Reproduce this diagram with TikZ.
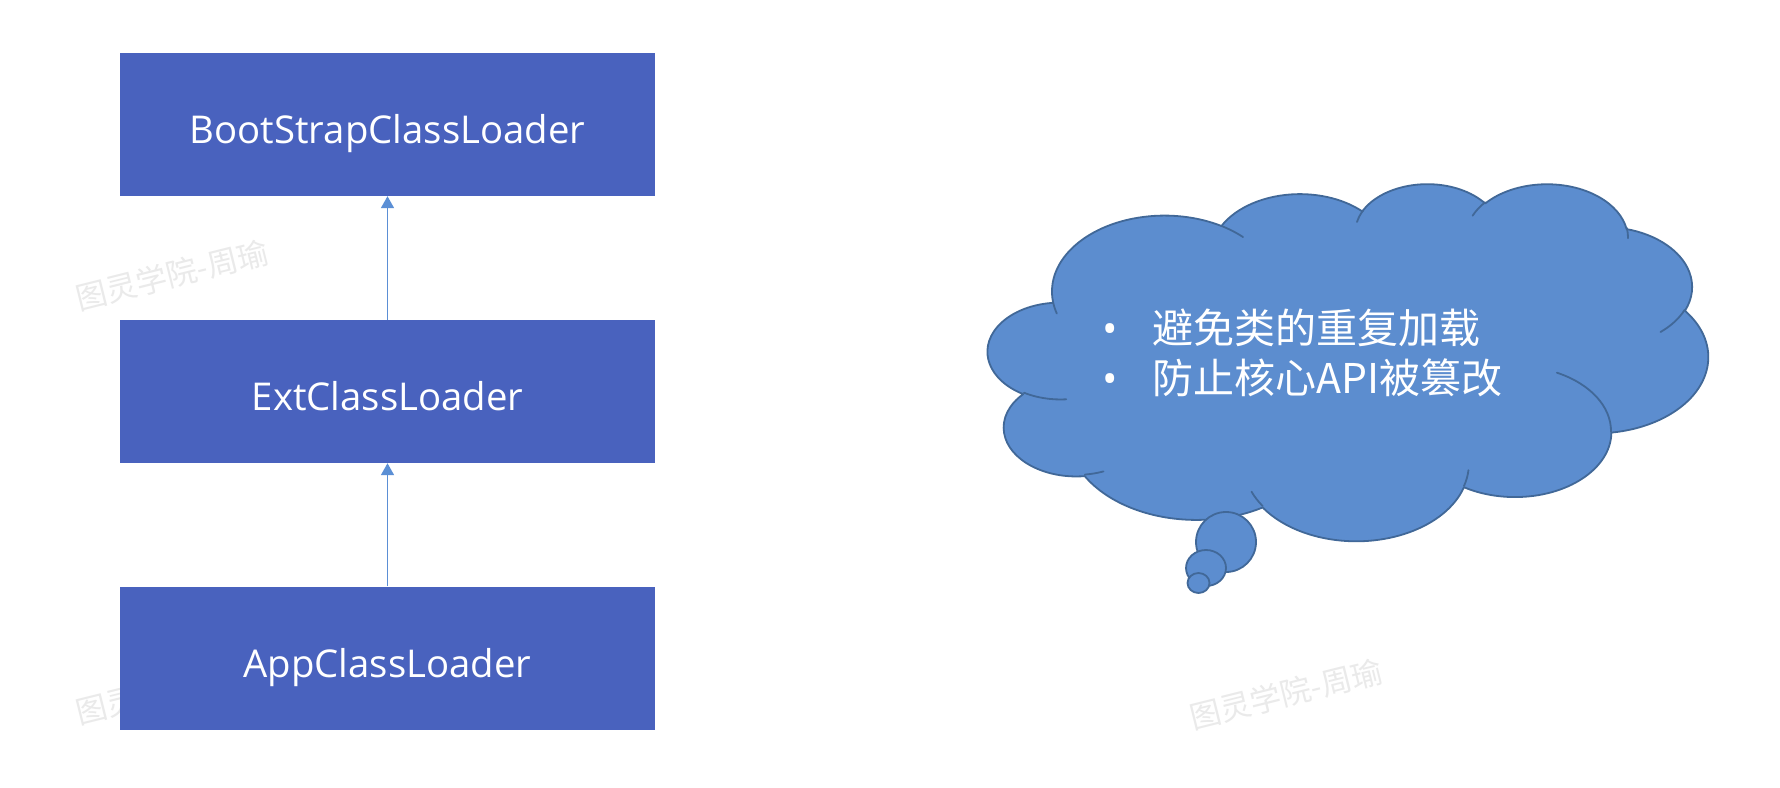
\documentclass[tikz,border=0pt]{standalone}
\usepackage{fontspec}
\setmainfont{Open Sans}
\newfontfamily\cjkfont{Noto Sans CJK SC}
\usetikzlibrary{arrows.meta}
\definecolor{boxblue}{RGB}{73,98,190}
\definecolor{cloudfill}{RGB}{92,141,207}
\definecolor{cloudline}{RGB}{65,104,152}
\definecolor{arrowblue}{RGB}{91,143,213}
\definecolor{wmgrey}{RGB}{234,234,234}
% true (visual) angle -> ellipse parameter angle
\newcommand\cldcalc[5]{%
  \pgfmathsetmacro\cldtA{atan2((#2)*sin(#4),(#3)*cos(#4))}%
  \pgfmathsetmacro\cldtB{atan2((#2)*sin((#4)+(#5)),(#3)*cos((#4)+(#5)))}%
  \pgfmathsetmacro\cldtD{\cldtB-(\cldtA)}%
  \pgfmathsetmacro\cldtD{\cldtD-360*round((\cldtD-(#5))/360)}%
  \expandafter\xdef\csname cldS#1\endcsname{\cldtA}%
  \expandafter\xdef\csname cldD#1\endcsname{\cldtD}%
}
\cldcalc{a}{67.53}{91.90}{-190.4875}{123.7805}
\cldcalc{b}{53.33}{72.67}{-144.1024}{89.9452}
\cldcalc{c}{43.65}{59.45}{-145.8079}{99.7230}
\cldcalc{d}{48.57}{65.95}{-130.9861}{117.2417}
\cldcalc{e}{53.33}{72.73}{-78.7089}{109.0269}
\cldcalc{f}{67.75}{92.20}{-46.2673}{130.2690}
\cldcalc{g}{57.85}{78.67}{0.6250}{114.0333}
\cldcalc{h}{67.52}{92.15}{22.4516}{115.1726}
\cldcalc{i}{77.20}{105.43}{66.2426}{75.7110}
\cldcalc{j}{43.60}{59.18}{-274.9421}{146.7356}
\cldcalc{k}{43.45}{59.45}{-246.8285}{152.5189}
\cldcalc{ia}{43.45}{59.45}{86.7420}{26.4295}
\cldcalc{ib}{43.60}{59.18}{73.6105}{11.4475}
\cldcalc{ic}{67.52}{92.15}{137.6242}{14.0811}
\cldcalc{id}{67.52}{92.15}{6.4533}{15.9984}
\cldcalc{ie}{57.85}{78.67}{-70.2924}{70.9174}
\cldcalc{if}{53.33}{72.73}{30.3180}{27.7515}
\cldcalc{ig}{48.57}{65.95}{-13.7443}{14.8589}
\cldcalc{ih}{48.57}{65.95}{-149.1815}{18.1954}
\cldcalc{ii}{43.65}{59.45}{-163.4943}{17.6864}
\cldcalc{ij}{67.53}{91.90}{-66.7070}{12.3194}
\cldcalc{ik}{67.53}{91.90}{157.6544}{11.8582}
\begin{document}
\begin{tikzpicture}[x=1pt,y=-1pt,
  box/.style={fill=boxblue, draw=none, minimum width=535pt, minimum height=143pt,
    inner sep=0pt, text=white, font=\fontsize{38.3}{46}\selectfont,
    text height=38pt, text depth=0pt},
  conn/.style={draw=arrowblue, line width=1.6pt, -{Triangle[width=13pt,length=12pt]}},
  cloudshape/.style={fill=cloudfill, draw=cloudline, line width=1.8pt, line join=round},
  crease/.style={draw=cloudline, line width=1.8pt, line cap=round},
  cloudframe/.style={shift={(988pt,-183pt)}, x=1.66667pt, y=-0.82639pt},
  wm/.style={text=wmgrey, font=\cjkfont\fontsize{31}{31}\selectfont, rotate=14, inner sep=0pt},
  cloudtext/.style={text=white, font=\cjkfont\fontsize{41}{49}\selectfont, anchor=base west, inner sep=0pt},
  bullettext/.style={text=white, font=\fontsize{41}{49}\selectfont, anchor=base, inner sep=0pt}]
\fill[white] (0,0) rectangle (1780,787);
\useasboundingbox (0,0) rectangle (1780,787);
% watermarks
\node[wm] (w1) at (172,275) {图灵学院-周瑜};
\node[wm] (w2) at (1286,694) {图灵学院-周瑜};
\node[wm] (w3) at (107,706) {图灵};
% class loader boxes
\node[box] (b1) at (387.5,124.5) {BootStrapClassLoader};
\node[box] (b2) at (387.5,391.5) {ExtClassLoader};
\node[box] (b3) at (387.5,658) {AppClassLoader};
\draw[conn] (b2.north) -- (b1.south);
\draw[conn] (b3.north) -- (b2.south);
% cloud callout
\begin{scope}[cloudframe]
\path[cloudshape] (39.00,143.70)
  arc[start angle=\cldSa, delta angle=\cldDa, x radius=67.53, y radius=91.90]
  arc[start angle=\cldSb, delta angle=\cldDb, x radius=53.33, y radius=72.67]
  arc[start angle=\cldSc, delta angle=\cldDc, x radius=43.65, y radius=59.45]
  arc[start angle=\cldSd, delta angle=\cldDd, x radius=48.57, y radius=65.95]
  arc[start angle=\cldSe, delta angle=\cldDe, x radius=53.33, y radius=72.73]
  arc[start angle=\cldSf, delta angle=\cldDf, x radius=67.75, y radius=92.20]
  arc[start angle=\cldSg, delta angle=\cldDg, x radius=57.85, y radius=78.67]
  arc[start angle=\cldSh, delta angle=\cldDh, x radius=67.52, y radius=92.15]
  arc[start angle=\cldSi, delta angle=\cldDi, x radius=77.20, y radius=105.43]
  arc[start angle=\cldSj, delta angle=\cldDj, x radius=43.60, y radius=59.18]
  arc[start angle=\cldSk, delta angle=\cldDk, x radius=43.45, y radius=59.45]
  -- cycle;
\end{scope}
\path[cloudshape] (1226,542) circle[radius=30];
\path[cloudshape] (1206,568) ellipse[x radius=20, y radius=18];
\path[cloudshape] (1198.5,583) ellipse[x radius=11, y radius=10];
\begin{scope}[cloudframe]
\path[crease]
  (46.93,261.77) arc[start angle=\cldSia, delta angle=\cldDia, x radius=43.45, y radius=59.45]
  (69.28,348.99) arc[start angle=\cldSib, delta angle=\cldDib, x radius=43.60, y radius=59.18]
  (164.78,390.90) arc[start angle=\cldSic, delta angle=\cldDic, x radius=67.52, y radius=92.15]
  (288.27,347.51) arc[start angle=\cldSid, delta angle=\cldDid, x radius=67.52, y radius=92.15]
  (341.29,229.54) arc[start angle=\cldSie, delta angle=\cldDie, x radius=57.85, y radius=78.67]
  (417.98,153.54) arc[start angle=\cldSif, delta angle=\cldDif, x radius=53.33, y radius=72.73]
  (383.24,54.26) arc[start angle=\cldSig, delta angle=\cldDig, x radius=48.57, y radius=65.95]
  (290.78,39.52) arc[start angle=\cldSih, delta angle=\cldDih, x radius=48.57, y radius=65.95]
  (221.41,47.20) arc[start angle=\cldSii, delta angle=\cldDii, x radius=43.65, y radius=59.45]
  (140.00,51.92) arc[start angle=\cldSij, delta angle=\cldDij, x radius=67.53, y radius=91.90]
  (41.27,157.89) arc[start angle=\cldSik, delta angle=\cldDik, x radius=67.53, y radius=91.90];
\end{scope}
% cloud text
\node[bullettext] (p1) at (1110,343) {•};
\node[cloudtext] (t1) at (1152,343) {避免类的重复加载};
\node[bullettext] (p2) at (1110,393) {•};
\node[cloudtext] (t2) at (1152,393) {防止核心API被篡改};
\end{tikzpicture}
\end{document}
